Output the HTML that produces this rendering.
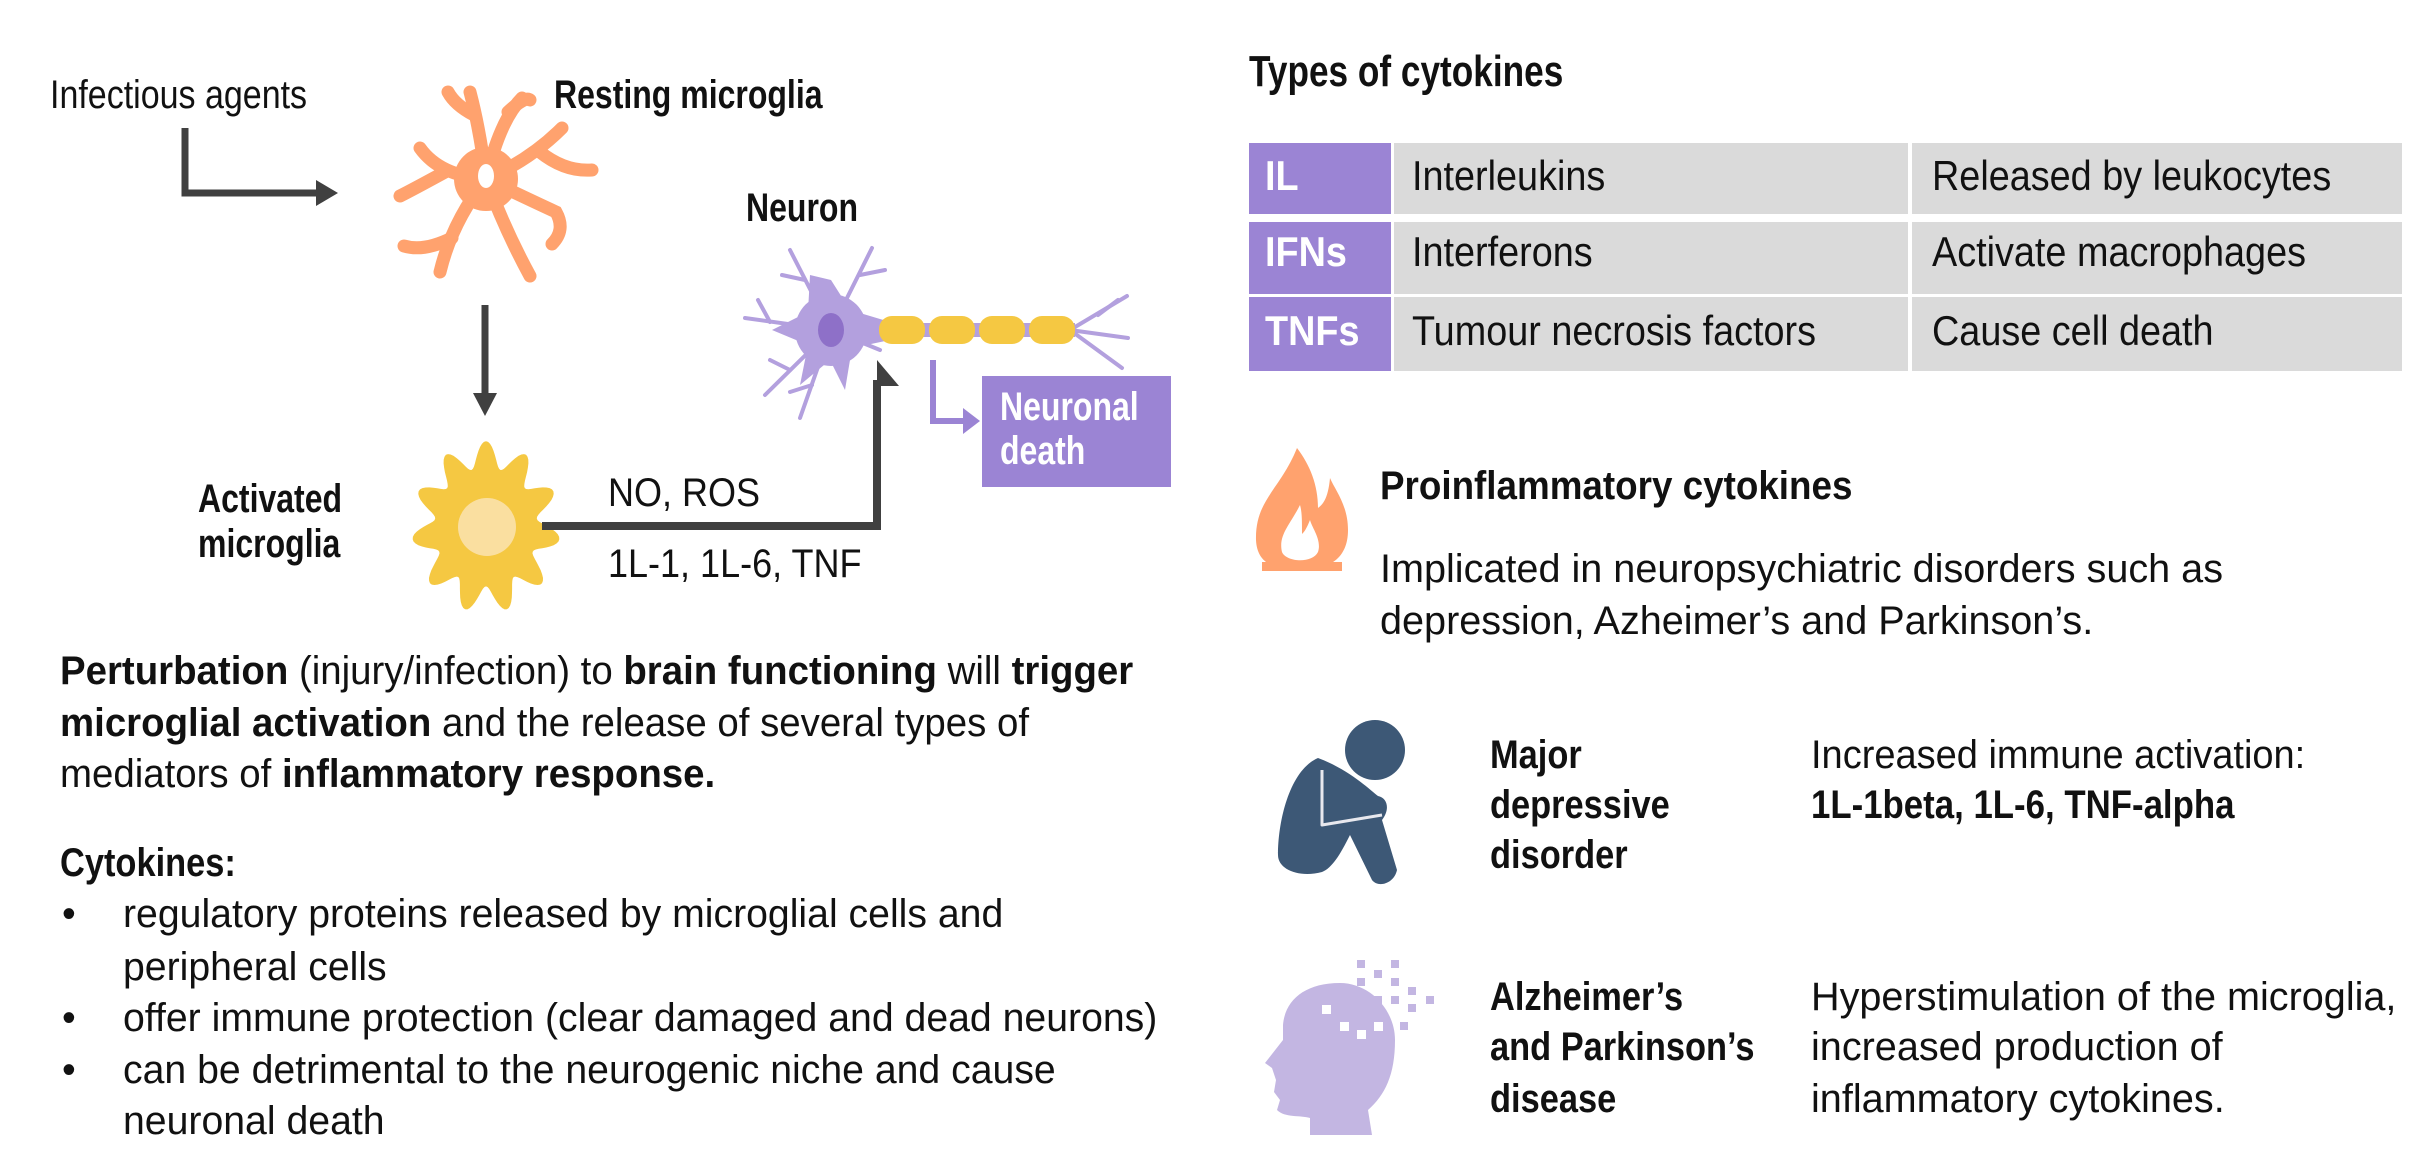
<!DOCTYPE html>
<html><head><meta charset="utf-8">
<style>
html,body{margin:0;padding:0;background:#fff;}
body{width:2436px;height:1172px;position:relative;overflow:hidden;font-family:"Liberation Sans",sans-serif;color:#111;}
.t{position:absolute;white-space:nowrap;font-size:40px;line-height:40px;transform-origin:0 0;transform:scaleX(.98);}
.b{font-weight:bold;transform:scaleX(.86);}
.t b{font-weight:bold;}
.w{color:#fff;}
.tb{transform:scaleX(.9);font-size:42px;line-height:42px;}
.cell{position:absolute;background:#dadada;}
.pc{position:absolute;background:#9b84d4;}
svg{position:absolute;left:0;top:0;}
</style></head>
<body>
<svg width="2436" height="1172">
  <g stroke="#404040" stroke-width="7" fill="none">
    <polyline points="185,128 185,193 318,193"/>
  </g>
  <polygon points="316,180 338,193 316,206" fill="#404040"/>
  <g stroke="#ffa26e" stroke-width="13" fill="none" stroke-linecap="round">
    <path d="M486 179 Q480 130 470 92"/><path d="M474 115 Q455 105 448 92"/>
    <path d="M486 179 Q500 120 522 98"/><path d="M508 112 Q525 96 530 100"/>
    <path d="M486 179 Q530 160 562 128"/><path d="M540 152 Q565 172 592 170"/>
    <path d="M486 179 Q530 200 556 212 Q566 230 552 244"/>
    <path d="M486 179 Q505 230 530 276"/>
    <path d="M486 179 Q452 222 440 272"/><path d="M452 238 Q424 252 404 246"/>
    <path d="M486 179 Q440 176 420 148"/><path d="M445 172 Q412 190 400 196"/>
  </g>
  <circle cx="486" cy="179" r="32" fill="#ffa26e"/>
  <ellipse cx="486" cy="176" rx="8" ry="12" fill="#fff"/>
  <line x1="485" y1="305" x2="485" y2="395" stroke="#404040" stroke-width="7"/>
  <polygon points="473,393 497,393 485,416" fill="#404040"/>
  <path id="blob" fill="#f5c842"/>
  <circle cx="487" cy="527" r="29" fill="#fadfa0"/>
  <polyline points="542,526 877,526 877,380" stroke="#404040" stroke-width="8" fill="none"/>
  <polygon points="877,360 899,386 877,386" fill="#404040"/>
  <g>
    <g stroke="#b3a0de" stroke-width="4" fill="none" stroke-linecap="round">
      <path d="M831 330 L790 250"/><path d="M805 280 L782 275"/>
      <path d="M831 330 L872 248"/><path d="M860 275 L885 270"/>
      <path d="M831 330 L745 318"/><path d="M770 322 L758 300"/>
      <path d="M831 330 L765 395"/><path d="M790 370 L770 360"/>
      <path d="M831 330 L800 418"/><path d="M812 385 L790 392"/>
      <path d="M831 330 L880 350"/>
      <path d="M1070 330 L1127 296"/><path d="M1070 330 L1122 368"/><path d="M1070 330 L1128 338"/><path d="M1098 315 L1118 300"/>
    </g>
    <path d="M831 280 L850 310 L890 322 L890 340 L852 348 L845 390 L830 360 L800 385 L808 345 L772 330 L808 312 L810 275 Z" fill="#b3a0de"/>
    <circle cx="831" cy="330" r="36" fill="#b3a0de"/>
    <rect x="860" y="323" width="215" height="14" fill="#b3a0de"/>
    <ellipse cx="831" cy="330" rx="13" ry="17" fill="#8e70c8"/>
    <rect x="879" y="316" width="46" height="28" rx="13" fill="#f5c842"/>
    <rect x="929" y="316" width="46" height="28" rx="13" fill="#f5c842"/>
    <rect x="979" y="316" width="46" height="28" rx="13" fill="#f5c842"/>
    <rect x="1029" y="316" width="46" height="28" rx="13" fill="#f5c842"/>
  </g>
  <polyline points="933,360 933,421 965,421" stroke="#9b84d4" stroke-width="6" fill="none"/>
  <polygon points="963,408 980,421 963,434" fill="#9b84d4"/>
  <rect x="982" y="376" width="189" height="111" fill="#9b84d4"/>
  <g>
    <path d="M1297 448 C1280 490 1255 500 1256 540 C1257 562 1272 570 1300 570 C1330 570 1348 558 1348 530 C1348 505 1335 490 1330 478 C1328 500 1322 505 1318 508 C1318 485 1310 465 1297 448 Z" fill="#ffa26e"/>
    <path d="M1300 505 C1290 525 1278 535 1282 552 C1286 562 1312 564 1318 552 C1322 540 1312 528 1310 520 C1306 530 1304 532 1302 534 C1302 520 1302 512 1300 505 Z" fill="#fff"/>
    <rect x="1262" y="562" width="80" height="9" fill="#ffa26e"/>
  </g>
  <g fill="#3d5876">
    <circle cx="1375" cy="750" r="30"/>
    <path d="M1318 758 C1290 770 1278 820 1278 855 C1278 870 1300 878 1322 872 C1332 868 1340 855 1350 835 L1372 880 C1378 888 1394 884 1397 870 L1382 820 C1390 810 1388 798 1378 796 C1370 790 1350 770 1318 758 Z"/>
    <path d="M1322 770 L1322 825 L1382 815" stroke="#e8e8ee" stroke-width="3" fill="none" stroke-linejoin="round"/>
  </g>
  <g fill="#c3b6e2">
    <path d="M1340 983 C1305 983 1285 1000 1283 1025 L1283 1040 L1265 1063 L1272 1068 L1276 1080 L1274 1092 L1280 1100 L1277 1110 C1285 1118 1300 1115 1310 1118 L1310 1135 L1372 1135 L1368 1110 C1385 1095 1395 1075 1395 1040 C1395 1010 1370 983 1340 983 Z"/>
    <rect x="1357" y="960" width="8" height="8"/><rect x="1391" y="960" width="8" height="8"/><rect x="1374" y="970" width="8" height="8"/>
    <rect x="1357" y="978" width="8" height="8"/><rect x="1391" y="978" width="8" height="8"/><rect x="1348" y="987" width="8" height="8"/>
    <rect x="1408" y="987" width="8" height="8"/><rect x="1426" y="996" width="8" height="8"/><rect x="1374" y="996" width="8" height="8"/>
    <rect x="1391" y="996" width="8" height="8"/><rect x="1408" y="1004" width="8" height="8"/><rect x="1400" y="1022" width="8" height="8"/>
  </g>
  <g fill="#fff"><rect x="1322" y="1005" width="9" height="9"/><rect x="1340" y="1022" width="9" height="9"/><rect x="1357" y="1030" width="9" height="9"/><rect x="1374" y="1022" width="9" height="9"/></g>
</svg>

<div class="t" style="left:50px;top:75px;transform:scaleX(.85)">Infectious agents</div>
<div class="t b" style="left:554px;top:75px;transform:scaleX(.8)">Resting microglia</div>
<div class="t b" style="left:746px;top:188px;transform:scaleX(.8)">Neuron</div>
<div class="t b" style="left:198px;top:479px;transform:scaleX(.8)">Activated</div>
<div class="t b" style="left:198px;top:524px;transform:scaleX(.8)">microglia</div>
<div class="t" style="left:608px;top:473px;transform:scaleX(.9)">NO, ROS</div>
<div class="t" style="left:608px;top:544px;transform:scaleX(.9)">1L-1, 1L-6, TNF</div>
<div class="t b w" style="left:1000px;top:387px;transform:scaleX(.8)">Neuronal</div>
<div class="t b w" style="left:1000px;top:431px;transform:scaleX(.8)">death</div>

<div class="t" style="left:60px;top:651px;transform:scaleX(.96)"><b>Perturbation</b> (injury/infection) to <b>brain functioning</b> will <b>trigger</b></div>
<div class="t" style="left:60px;top:703px;transform:scaleX(.96)"><b>microglial activation</b> and the release of several types of</div>
<div class="t" style="left:60px;top:754px;transform:scaleX(.96)">mediators of <b>inflammatory response.</b></div>
<div class="t b" style="left:60px;top:843px">Cytokines:</div>
<div class="t" style="left:62px;top:894px">•</div>
<div class="t" style="left:123px;top:894px">regulatory proteins released by microglial cells and</div>
<div class="t" style="left:123px;top:947px">peripheral cells</div>
<div class="t" style="left:62px;top:998px">•</div>
<div class="t" style="left:123px;top:998px">offer immune protection (clear damaged and dead neurons)</div>
<div class="t" style="left:62px;top:1050px">•</div>
<div class="t" style="left:123px;top:1050px">can be detrimental to the neurogenic niche and cause</div>
<div class="t" style="left:123px;top:1101px">neuronal death</div>

<div class="t b" style="left:1249px;top:50px;font-size:44px;line-height:44px;transform:scaleX(.8)">Types of cytokines</div>
<div>
  <div class="pc" style="left:1249px;top:143px;width:142px;height:71px"></div>
  <div class="cell" style="left:1394px;top:143px;width:514px;height:71px"></div>
  <div class="cell" style="left:1912px;top:143px;width:490px;height:71px"></div>
  <div class="pc" style="left:1249px;top:222px;width:142px;height:72px"></div>
  <div class="cell" style="left:1394px;top:222px;width:514px;height:72px"></div>
  <div class="cell" style="left:1912px;top:222px;width:490px;height:72px"></div>
  <div class="pc" style="left:1249px;top:297px;width:142px;height:74px"></div>
  <div class="cell" style="left:1394px;top:297px;width:514px;height:74px"></div>
  <div class="cell" style="left:1912px;top:297px;width:490px;height:74px"></div>
  <div class="t b w tb" style="left:1265px;top:155px">IL</div>
  <div class="t tb" style="left:1412px;top:155px">Interleukins</div>
  <div class="t tb" style="left:1932px;top:155px">Released by leukocytes</div>
  <div class="t b w tb" style="left:1265px;top:231px">IFNs</div>
  <div class="t tb" style="left:1412px;top:231px">Interferons</div>
  <div class="t tb" style="left:1932px;top:231px">Activate macrophages</div>
  <div class="t b w tb" style="left:1265px;top:310px">TNFs</div>
  <div class="t tb" style="left:1412px;top:310px">Tumour necrosis factors</div>
  <div class="t tb" style="left:1932px;top:310px">Cause cell death</div>
</div>

<div class="t b" style="left:1380px;top:466px;transform:scaleX(.92)">Proinflammatory cytokines</div>
<div class="t" style="left:1380px;top:549px;transform:scaleX(.99)">Implicated in neuropsychiatric disorders such as</div>
<div class="t" style="left:1380px;top:601px;transform:scaleX(.99)">depression, Azheimer’s and Parkinson’s.</div>

<div class="t b" style="left:1490px;top:735px">Major</div>
<div class="t b" style="left:1490px;top:785px">depressive</div>
<div class="t b" style="left:1490px;top:835px">disorder</div>
<div class="t" style="left:1811px;top:735px;transform:scaleX(.95)">Increased immune activation:</div>
<div class="t b" style="left:1811px;top:785px;transform:scaleX(.87)">1L-1beta, 1L-6, TNF-alpha</div>

<div class="t b" style="left:1490px;top:977px">Alzheimer’s</div>
<div class="t b" style="left:1490px;top:1027px">and Parkinson’s</div>
<div class="t b" style="left:1490px;top:1079px">disease</div>
<div class="t" style="left:1811px;top:977px;transform:scaleX(.99)">Hyperstimulation of the microglia,</div>
<div class="t" style="left:1811px;top:1027px;transform:scaleX(.99)">increased production of</div>
<div class="t" style="left:1811px;top:1079px;transform:scaleX(.99)">inflammatory cytokines.</div>

<script>
(function(){
  var cx=486,cy=527,n=11,pts=[];
  for(var i=0;i<=220;i++){
    var a=i/220*Math.PI*2;
    var r=66+12*Math.cos(a*n);
    pts.push((cx+r*0.95*Math.sin(a)).toFixed(1)+','+(cy-r*1.1*Math.cos(a)).toFixed(1));
  }
  document.getElementById('blob').setAttribute('d','M'+pts.join(' L')+'Z');
})();
</script>
</body></html>
